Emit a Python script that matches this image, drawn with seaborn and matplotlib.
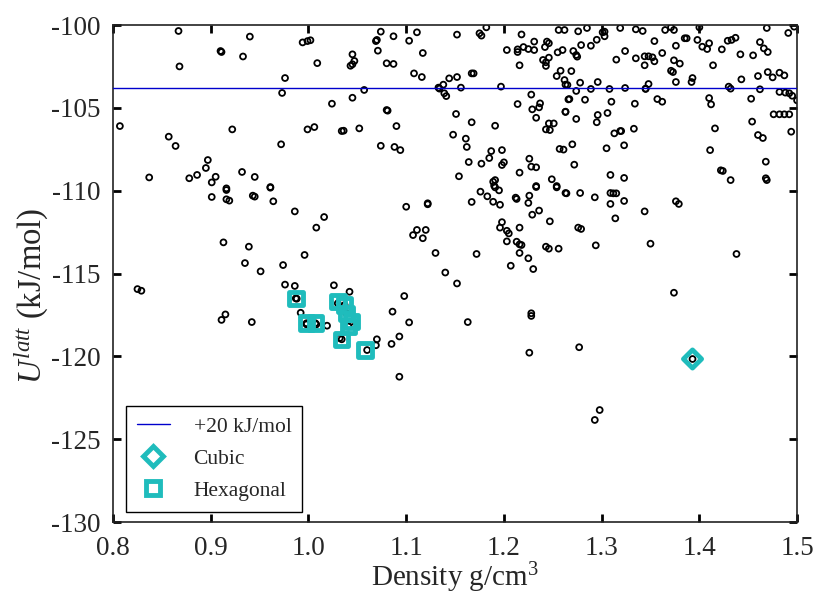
import matplotlib
matplotlib.use("Agg")
import matplotlib.pyplot as plt
from matplotlib.lines import Line2D
import seaborn as sns
import pandas as pd

# ---- data -------------------------------------------------------------
density = [
    0.867, 0.940, 0.994, 0.999, 1.002, 0.910, 0.911, 0.933, 0.868, 1.009,
    0.976, 0.973, 1.024, 0.807, 0.922, 0.999, 1.006, 1.034, 0.857, 0.864,
    0.972, 0.897, 0.895, 0.837, 0.878, 0.886, 0.905, 0.901, 0.932, 0.945,
    0.961, 0.916, 0.916, 0.901, 0.916, 0.919, 0.943, 0.945, 0.961, 0.964,
    0.986, 1.016, 1.008, 0.913, 0.939, 0.996, 0.935, 0.974, 0.951, 0.825,
    0.829, 0.976, 0.986, 1.026, 0.988, 0.992, 0.915, 0.911, 0.942, 1.019,
    0.998, 1.008, 1.030, 1.032, 1.042, 1.100, 1.122, 1.122, 1.167, 1.176,
    1.183, 1.189, 1.191, 1.195, 1.196, 1.212, 1.213, 1.226, 1.225, 1.233,
    1.236, 1.229, 1.254, 1.263, 1.247, 1.111, 1.107, 1.120, 1.117, 1.130,
    1.172, 1.198, 1.196, 1.203, 1.205, 1.216, 1.203, 1.213, 1.216, 1.218,
    1.216, 1.225, 1.207, 1.230, 1.243, 1.246, 1.256, 1.140, 1.152, 1.098,
    1.086, 1.103, 1.163, 1.228, 1.228, 1.093, 1.085, 1.070, 1.069, 1.060,
    1.226, 1.093, 1.393, 1.298, 1.293, 1.264, 1.278, 1.293, 1.309, 1.312,
    1.315, 1.309, 1.323, 1.314, 1.344, 1.376, 1.379, 1.276, 1.279, 1.294,
    1.350, 1.438, 1.374, 1.277, 1.074, 1.087, 1.111, 1.103, 1.069, 1.070,
    1.071, 1.117, 1.152, 1.175, 1.177, 1.182, 1.045, 1.047, 1.043, 1.045,
    1.080, 1.087, 1.108, 1.116, 1.144, 1.152, 1.167, 1.169, 1.133, 1.138,
    1.134, 1.139, 1.141, 1.057, 1.156, 1.197, 1.045, 1.080, 1.081, 1.151,
    1.167, 1.191, 1.036, 1.052, 1.090, 1.148, 1.161, 1.162, 1.074, 1.088,
    1.094, 1.187, 1.185, 1.198, 1.164, 1.177, 1.198, 1.200, 1.154, 1.189,
    1.190, 1.191, 1.203, 1.214, 1.214, 1.218, 1.220, 1.225, 1.231, 1.231,
    1.244, 1.246, 1.242, 1.255, 1.260, 1.256, 1.262, 1.216, 1.240, 1.243,
    1.246, 1.243, 1.258, 1.254, 1.262, 1.265, 1.228, 1.214, 1.229, 1.237,
    1.236, 1.233, 1.266, 1.263, 1.246, 1.251, 1.243, 1.247, 1.257, 1.261,
    1.226, 1.228, 1.233, 1.216, 1.249, 1.254, 1.233, 1.276, 1.285, 1.301,
    1.303, 1.303, 1.319, 1.335, 1.342, 1.365, 1.374, 1.371, 1.400, 1.469,
    1.491, 1.497, 1.295, 1.289, 1.279, 1.271, 1.274, 1.275, 1.324, 1.315,
    1.335, 1.344, 1.348, 1.352, 1.354, 1.344, 1.354, 1.362, 1.376, 1.385,
    1.387, 1.398, 1.403, 1.408, 1.410, 1.423, 1.429, 1.433, 1.437, 1.374,
    1.380, 1.414, 1.442, 1.455, 1.462, 1.466, 1.470, 1.269, 1.371, 1.373,
    1.296, 1.278, 1.263, 1.348, 1.345, 1.376, 1.392, 1.393, 1.443, 1.460,
    1.470, 1.475, 1.482, 1.487, 1.274, 1.289, 1.308, 1.324, 1.345, 1.430,
    1.432, 1.462, 1.482, 1.488, 1.492, 1.495, 1.500, 1.267, 1.283, 1.310,
    1.334, 1.357, 1.362, 1.410, 1.412, 1.453, 1.263, 1.306, 1.296, 1.295,
    1.274, 1.476, 1.482, 1.487, 1.492, 1.454, 1.494, 1.313, 1.319, 1.320,
    1.333, 1.416, 1.460, 1.465, 1.270, 1.305, 1.323, 1.411, 1.272, 1.468,
    1.309, 1.323, 1.422, 1.424, 1.432, 1.468, 1.469, 0.987, 1.037, 1.039,
    1.044, 1.041, 1.034, 1.007, 0.998,
]
energy = [
    -100.36, -100.70, -101.05, -100.97, -100.92, -101.57, -101.63, -101.90, -102.50, -102.30,
    -103.20, -104.10, -104.75, -106.10, -106.30, -106.30, -106.16, -106.40, -106.74, -107.30,
    -107.20, -108.15, -108.63, -109.20, -109.25, -109.05, -109.16, -109.50, -108.87, -109.17,
    -109.78, -109.86, -109.96, -110.38, -110.52, -110.60, -110.30, -110.36, -109.82, -110.64,
    -111.25, -111.59, -112.23, -113.12, -113.38, -113.88, -114.37, -114.49, -114.87, -115.94,
    -116.04, -115.67, -115.75, -115.71, -116.52, -117.37, -117.47, -117.80, -117.93, -118.15,
    -118.07, -118.07, -116.80, -118.90, -116.10, -110.97, -110.76, -110.82, -110.68, -110.06,
    -110.34, -110.67, -109.80, -109.98, -110.85, -110.42, -110.50, -110.30, -110.74, -109.78,
    -111.20, -111.45, -109.80, -110.14, -111.85, -112.37, -112.68, -112.37, -112.87, -113.76,
    -113.82, -111.90, -112.23, -112.42, -112.58, -112.23, -113.06, -113.08, -113.24, -113.28,
    -113.76, -114.08, -114.53, -114.73, -113.38, -113.50, -113.50, -114.94, -115.60, -116.36,
    -117.30, -117.95, -117.93, -117.40, -117.56, -118.80, -119.25, -118.97, -119.33, -119.62,
    -119.78, -121.23, -120.16, -123.24, -123.84, -110.16, -110.14, -110.40, -110.14, -110.16,
    -110.16, -110.80, -110.62, -111.67, -111.25, -110.64, -110.80, -112.23, -112.31, -113.30,
    -113.20, -113.82, -116.16, -119.45, -100.40, -100.68, -100.44, -100.95, -100.97, -100.90,
    -101.55, -101.69, -100.58, -100.50, -100.64, -100.14, -101.77, -102.17, -102.46, -102.37,
    -102.31, -102.35, -102.92, -103.14, -103.22, -103.14, -102.92, -102.92, -103.78, -103.60,
    -103.84, -104.12, -104.29, -103.92, -103.78, -103.72, -104.39, -105.13, -105.17, -105.37,
    -105.87, -106.08, -106.38, -106.24, -106.10, -106.62, -106.86, -107.36, -107.29, -107.36,
    -107.55, -107.61, -108.03, -107.55, -108.27, -108.37, -108.45, -108.29, -109.13, -109.46,
    -109.70, -109.36, -101.51, -101.47, -101.63, -100.57, -101.33, -101.45, -101.51, -101.00,
    -101.00, -101.10, -101.33, -101.65, -101.51, -100.30, -100.30, -102.43, -102.11, -102.25,
    -101.97, -102.47, -102.76, -103.08, -103.32, -103.62, -104.20, -104.77, -105.09, -104.73,
    -104.97, -105.60, -104.49, -105.23, -105.94, -105.94, -106.30, -106.34, -107.48, -107.52,
    -108.07, -108.55, -108.59, -108.91, -109.31, -109.72, -109.72, -100.38, -100.18, -100.44,
    -100.40, -100.68, -100.18, -100.26, -100.36, -100.30, -100.30, -100.14, -100.14, -100.18,
    -100.48, -100.10, -100.89, -101.25, -101.21, -101.57, -101.81, -101.91, -101.57, -102.09,
    -102.01, -101.89, -101.89, -101.95, -102.19, -102.43, -100.97, -101.69, -101.25, -100.80,
    -100.80, -100.90, -101.31, -101.45, -101.10, -101.47, -100.95, -100.90, -100.77, -102.13,
    -102.33, -102.43, -101.77, -101.83, -101.03, -101.41, -101.63, -102.78, -102.76, -102.84,
    -103.44, -103.48, -103.60, -103.56, -103.84, -103.44, -103.44, -103.20, -103.28, -103.08,
    -102.84, -103.16, -102.88, -103.04, -103.98, -103.86, -103.86, -103.80, -103.86, -103.72,
    -103.84, -103.88, -104.04, -104.08, -104.12, -104.27, -104.55, -104.47, -104.51, -104.63,
    -104.75, -104.47, -104.63, -104.41, -104.79, -104.45, -105.25, -105.31, -105.43, -105.87,
    -105.67, -105.39, -105.39, -105.39, -105.39, -105.83, -106.44, -106.54, -106.40, -106.40,
    -106.26, -106.24, -106.64, -106.82, -107.20, -107.44, -107.26, -107.55, -108.43, -108.25,
    -109.05, -109.23, -108.77, -108.81, -109.36, -109.25, -109.36, -116.50, -116.90, -117.40,
    -117.90, -118.20, -118.97, -118.00, -118.00,
]

cubic_density = [1.393]
cubic_energy = [-120.16]

hex_density = [0.987, 0.998, 1.007, 1.030, 1.037, 1.039, 1.044, 1.041, 1.034, 1.058]
hex_energy = [-116.50, -118.00, -118.00, -116.70, -116.90, -117.40, -117.90, -118.20, -118.97, -119.62]

threshold = -103.82
threshold_label = "+20 kJ/mol"

x_ticks = [0.8, 0.9, 1.0, 1.1, 1.2, 1.3, 1.4, 1.5]
x_tick_labels = ["0.8", "0.9", "1.0", "1.1", "1.2", "1.3", "1.4", "1.5"]
y_ticks = [-130, -125, -120, -115, -110, -105, -100]

# ---- style ------------------------------------------------------------
sns.set_style("ticks")
plt.rcParams["font.family"] = ["Liberation Serif", "DejaVu Serif"]
plt.rcParams["axes.unicode_minus"] = False
plt.rcParams["mathtext.fontset"] = "custom"
plt.rcParams["mathtext.rm"] = "Liberation Serif"
plt.rcParams["mathtext.it"] = "Liberation Serif:italic"

cyan = "#1fbcbc"

fig = plt.figure(figsize=(8.15, 5.97), dpi=100)
ax = fig.add_axes([0.1387, 0.1256, 0.8393, 0.8325])

df_all = pd.DataFrame({"density": density, "energy": energy})
df_cub = pd.DataFrame({"density": cubic_density, "energy": cubic_energy})
df_hex = pd.DataFrame({"density": hex_density, "energy": hex_energy})

sns.scatterplot(data=df_all, x="density", y="energy", ax=ax, marker="o",
                s=18, facecolor="none", edgecolor="black", linewidth=1.3,
                zorder=2, legend=False)
ax.axhline(threshold, color="#0000cc", linewidth=1.0, zorder=3)
sns.scatterplot(data=df_hex, x="density", y="energy", ax=ax, marker="s",
                s=95, facecolor="none", edgecolor=cyan, linewidth=3.5,
                zorder=4, legend=False)
sns.scatterplot(data=df_cub, x="density", y="energy", ax=ax, marker="D",
                s=85, facecolor="none", edgecolor=cyan, linewidth=3.5,
                zorder=4, legend=False)

ax.set_xlim(0.8, 1.5)
ax.set_ylim(-130, -100)
ax.set_xticks(x_ticks)
ax.set_xticklabels(x_tick_labels)
ax.set_yticks(y_ticks)
ax.tick_params(axis="both", direction="in", top=True, right=True,
               length=6, width=2, labelsize=19.5, color="black")
ax.tick_params(axis="x", pad=10)
ax.tick_params(axis="y", pad=9)
for sp in ax.spines.values():
    sp.set_linewidth(1.2)
    sp.set_color("#222222")

ax.set_xlabel("Density g/cm$^3$", fontsize=21, labelpad=0)
ax.set_ylabel("$\\mathit{U}^{\\mathit{latt}}$ (kJ/mol)", fontsize=23.5)
ax.yaxis.set_label_coords(-0.09, 0.455)

handles = [
    Line2D([0], [0], color="#0000cc", lw=1.0, label=threshold_label),
    Line2D([0], [0], marker="D", linestyle="none", markersize=10,
           markerfacecolor="none", markeredgecolor=cyan, markeredgewidth=3.5,
           label="Cubic"),
    Line2D([0], [0], marker="s", linestyle="none", markersize=9.5,
           markerfacecolor="none", markeredgecolor=cyan, markeredgewidth=3.5,
           label="Hexagonal"),
]
leg = ax.legend(handles=handles, loc="lower left", bbox_to_anchor=(0.0186, 0.0207),
                borderaxespad=0, fontsize=15.5, frameon=True, fancybox=False,
                edgecolor="black", framealpha=1, borderpad=0.5, labelspacing=0.56,
                handlelength=1.55, handletextpad=1.1)
leg.get_frame().set_linewidth(1.0)

fig.savefig("out.png", dpi=100)
